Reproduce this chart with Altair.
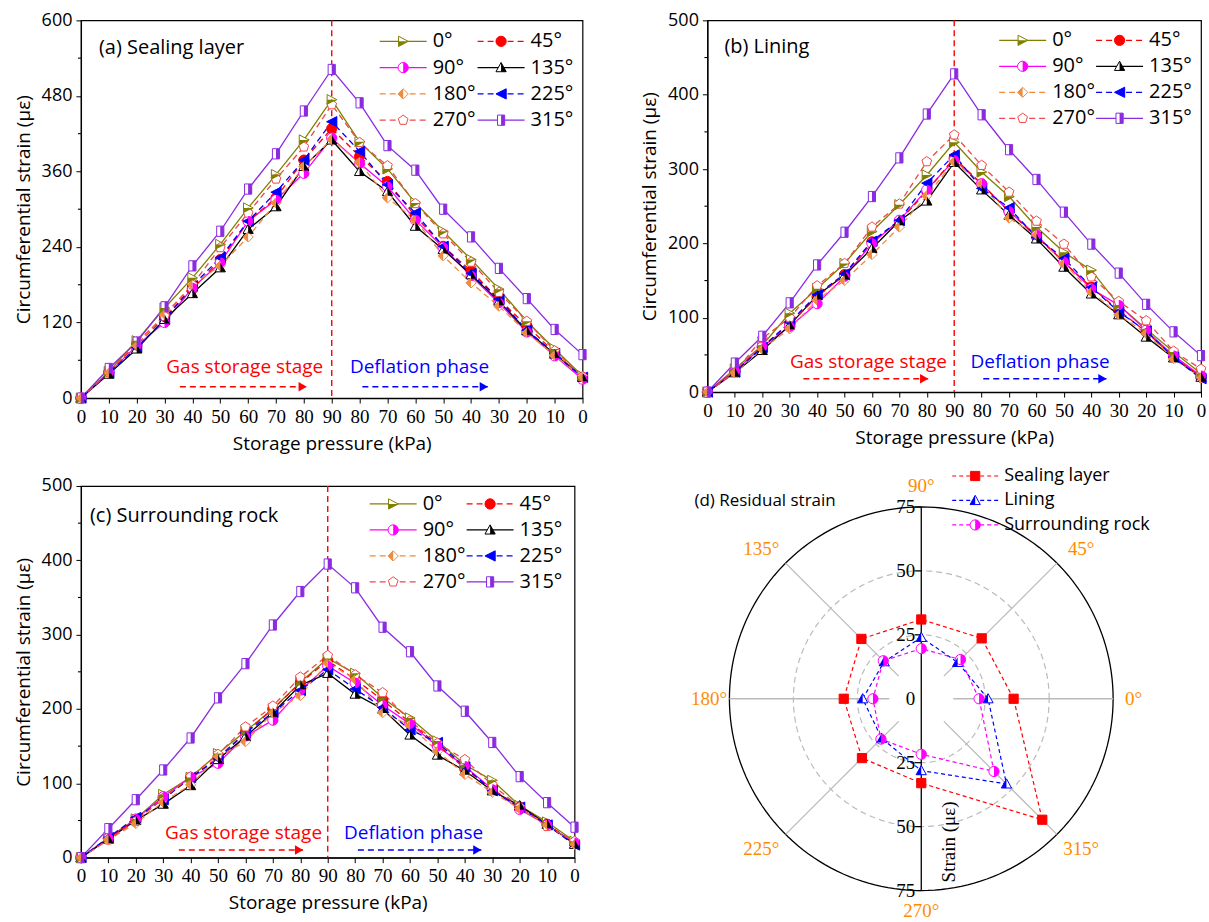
import altair as alt
import pandas as pd

# ---------------- data ----------------
X_LABELS = ["0", "10", "20", "30", "40", "50", "60", "70", "80", "90",
            "80", "70", "60", "50", "40", "30", "20", "10", "0"]
SERIES = ["0°", "45°", "90°", "135°", "180°", "225°", "270°", "315°"]

A_VALUES = {
    "0°":   [0, 42, 91, 143, 191, 244, 302, 355, 410, 474, 407, 364, 310, 265, 220, 173, 122, 78, 35],
    "45°":  [0, 41, 85, 128, 173, 220, 281, 318, 378, 428, 384, 344, 289, 241, 202, 157, 115, 72, 33],
    "90°":  [0, 40, 83, 120, 175, 215, 281, 315, 357, 413, 373, 336, 283, 239, 194, 151, 105, 67, 30],
    "135°": [0, 38, 78, 125, 166, 207, 268, 304, 368, 410, 360, 328, 273, 236, 196, 154, 107, 70, 33],
    "180°": [0, 40, 83, 133, 180, 210, 256, 310, 368, 411, 374, 318, 283, 226, 183, 146, 104, 68, 33],
    "225°": [0, 40, 80, 125, 178, 223, 281, 327, 378, 439, 392, 339, 294, 241, 198, 157, 108, 71, 33],
    "270°": [0, 41, 89, 130, 180, 239, 294, 348, 399, 466, 406, 369, 309, 261, 216, 168, 122, 75, 34],
    "315°": [0, 47, 89, 145, 210, 265, 332, 388, 456, 522, 469, 401, 362, 300, 256, 206, 158, 109, 69],
}
B_VALUES = {
    "0°":   [0, 31, 63, 106, 139, 173, 216, 252, 292, 336, 296, 263, 222, 188, 164, 117, 85, 54, 25],
    "45°":  [0, 28, 61, 92, 128, 158, 202, 230, 270, 315, 280, 243, 209, 175, 141, 110, 81, 47, 20],
    "90°":  [0, 28, 61, 88, 119, 155, 200, 231, 272, 312, 280, 243, 211, 175, 139, 117, 83, 49, 22],
    "135°": [0, 26, 56, 90, 130, 157, 193, 230, 257, 309, 272, 238, 206, 168, 132, 104, 74, 46, 20],
    "180°": [0, 26, 58, 85, 124, 150, 185, 222, 264, 310, 280, 234, 211, 173, 135, 104, 79, 45, 19],
    "225°": [0, 27, 60, 94, 131, 159, 203, 231, 281, 319, 274, 248, 208, 180, 141, 108, 82, 47, 18],
    "270°": [0, 27, 72, 100, 143, 173, 222, 253, 310, 346, 305, 269, 230, 199, 155, 122, 96, 55, 31],
    "315°": [0, 39, 75, 120, 171, 215, 263, 315, 374, 428, 373, 326, 286, 242, 199, 160, 118, 81, 49],
}
C_VALUES = {
    "0°":   [0, 27, 52, 85, 108, 140, 170, 200, 236, 268, 248, 215, 188, 157, 125, 104, 70, 48, 22],
    "45°":  [0, 26, 50, 80, 107, 135, 168, 200, 235, 265, 240, 212, 182, 152, 120, 92, 68, 45, 20],
    "90°":  [0, 26, 52, 82, 108, 127, 163, 185, 225, 258, 235, 205, 180, 150, 123, 92, 65, 44, 20],
    "135°": [0, 25, 50, 72, 97, 132, 163, 195, 232, 248, 220, 200, 165, 138, 117, 90, 70, 45, 18],
    "180°": [0, 24, 46, 75, 98, 136, 156, 195, 218, 262, 240, 195, 178, 143, 112, 88, 66, 44, 18],
    "225°": [0, 27, 54, 78, 108, 133, 168, 195, 225, 253, 227, 202, 172, 155, 122, 90, 68, 44, 17],
    "270°": [0, 24, 49, 80, 109, 139, 176, 204, 243, 272, 246, 222, 184, 154, 132, 98, 68, 42, 22],
    "315°": [0, 39, 78, 118, 161, 215, 261, 313, 358, 395, 363, 310, 277, 231, 197, 155, 109, 74, 41],
}

ANGLES = [0, 45, 90, 135, 180, 225, 270, 315]
RES_NAMES = ["Sealing layer", "Lining", "Surrounding rock"]
RES_SEAL = [36.1, 33.4, 31.0, 33.1, 30.3, 32.8, 33.0, 66.9]
RES_LINING = [26.1, 20.1, 24.0, 20.5, 22.9, 21.9, 28.1, 47.1]
RES_ROCK = [22.6, 21.7, 19.6, 21.0, 18.9, 22.3, 21.7, 40.2]
RADIAL_TICKS = [75, 50, 25, 0, -25, -50, -75]

# annotation anchors (index on x, strain on y)
ANN = {
    "a": {"gas": (5.88, 50), "gas_arrow": (3.55, 8.1, 18), "defl": (12.15, 50), "defl_arrow": (10.1, 14.6, 18)},
    "b": {"gas": (5.87, 40), "gas_arrow": (3.5, 8.05, 18), "defl": (12.13, 40), "defl_arrow": (10.06, 14.55, 18)},
    "c": {"gas": (5.93, 33), "gas_arrow": (3.57, 8.1, 10.3), "defl": (12.13, 33), "defl_arrow": (10.1, 14.6, 10.3)},
}

# ---------------- styles ----------------
SANS = "Open Sans"
SERIF = "Liberation Serif"

CIRCLE = "M-1,0A1,1,0,1,0,1,0A1,1,0,1,0,-1,0Z"
CIRCLE_RH = "M0,-1A1,1,0,0,1,0,1Z"
TRI_R = "M-0.9,-1L1,0L-0.9,1Z"
TRI_R_BH = "M-0.9,0L1,0L-0.9,1Z"
TRI_U = "M0,-1L1,0.8L-1,0.8Z"
TRI_U_RH = "M0,-1L1,0.8L0,0.8Z"
TRI_U_LH = "M0,-1L0,0.8L-1,0.8Z"
DIAM = "M0,-1L1,0L0,1L-1,0Z"
DIAM_LH = "M0,-1L0,1L-1,0Z"
TRI_L = "M1,-1L-1,0L1,1Z"
PENT = "M0,-1L0.951,-0.309L0.588,0.809L-0.588,0.809L-0.951,-0.309Z"
RECT = "M-0.7,-1H0.7V1H-0.7Z"
RECT_RH = "M0,-1H0.7V1H0Z"
SQUARE = "M-0.9,-0.9H0.9V0.9H-0.9Z"

STYLE = {
    "0°":   dict(stroke="#808000", fill="white", shape=TRI_R, half=TRI_R_BH, dashed=False),
    "45°":  dict(stroke="#FF0000", fill="#FF0000", shape=CIRCLE, half="", dashed=True),
    "90°":  dict(stroke="#FF00FF", fill="white", shape=CIRCLE, half=CIRCLE_RH, dashed=False),
    "135°": dict(stroke="#000000", fill="white", shape=TRI_U, half=TRI_U_RH, dashed=False),
    "180°": dict(stroke="#F08A3C", fill="white", shape=DIAM, half=DIAM_LH, dashed=True),
    "225°": dict(stroke="#0000FF", fill="#0000FF", shape=TRI_L, half="", dashed=True),
    "270°": dict(stroke="#F04848", fill="white", shape=PENT, half="", dashed=True),
    "315°": dict(stroke="#8A2BE2", fill="white", shape=RECT, half=RECT_RH, dashed=False),
}
RES_STYLE = {
    "Sealing layer": dict(stroke="#FF0000", fill="#FF0000", shape=SQUARE, half=""),
    "Lining": dict(stroke="#0000FF", fill="white", shape=TRI_U, half=TRI_U_LH),
    "Surrounding rock": dict(stroke="#FF00FF", fill="white", shape=CIRCLE, half=CIRCLE_RH),
}

# legend layout (pixels inside each panel): col x starts, first row y, row step
LEG = {"a": (299, 397, 21, 26.3), "b": (292, 389, 20, 26), "c": (289, 386, 18, 26)}
TITLE_POS = {"a": (18, 28), "b": (17, 27), "c": (9, 30)}
SIZE = {"a": (502, 378), "b": (494, 372), "c": (494, 372)}

LABEL_EXPR = "[" + ",".join("'%s'" % s for s in X_LABELS) + "][datum.value]"
MSIZE = 105


def long_df(values):
    rows = []
    for s in SERIES:
        st = STYLE[s]
        for i, v in enumerate(values[s]):
            rows.append({"series": s, "idx": i, "value": v, "stroke": st["stroke"], "fill": st["fill"],
                         "shape": st["shape"], "hshape": st["half"], "dashed": st["dashed"]})
    return pd.DataFrame(rows)


def legend_df(key):
    c0, c1, y0, dy = LEG[key]
    rows = []
    for i, s in enumerate(SERIES):
        st = STYLE[s]
        lx0 = c0 if i % 2 == 0 else c1
        rows.append({"name": s, "lx0": lx0, "lx1": lx0 + 47, "lm": lx0 + 23.5, "tx": lx0 + 53,
                     "ly": y0 + (i // 2) * dy, "stroke": st["stroke"], "fill": st["fill"],
                     "shape": st["shape"], "hshape": st["half"], "dashed": st["dashed"]})
    return pd.DataFrame(rows)


def line_panel(key, values, ymax, ystep, title):
    w, h = SIZE[key]
    df = long_df(values)
    X = alt.X("idx:Q", scale=alt.Scale(domain=[0, 18], nice=False, zero=False),
              axis=alt.Axis(values=list(range(19)), labelExpr=LABEL_EXPR, title="Storage pressure (kPa)",
                            labelFont=SERIF, labelFontSize=19, labelPadding=4, titlePadding=8,
                            labelOverlap=False, labelFlush=False))
    Y = alt.Y("value:Q", scale=alt.Scale(domain=[0, ymax], nice=False),
              axis=alt.Axis(values=list(range(0, ymax + 1, ystep)), title="Circumferential strain (με)",
                            labelFont=SANS, labelFontSize=18, labelPadding=4, titlePadding=8))

    layers = []
    # minor y ticks
    minor = pd.DataFrame({"value": list(range(ystep // 2, ymax, ystep))})
    layers.append(alt.Chart(minor).mark_rule(color="black", strokeWidth=1.1).encode(
        y=Y, x=alt.value(-3), x2=alt.value(0)))
    layers.append(alt.Chart(pd.DataFrame({"idx": [9]})).mark_rule(
        color="#FF0000", strokeDash=[6, 4], strokeWidth=1.4).encode(x=X))
    layers.append(alt.Chart(df[~df.dashed]).mark_line(strokeWidth=1.3).encode(
        X, Y, stroke=alt.Stroke("stroke:N", scale=None), detail="series:N"))
    layers.append(alt.Chart(df[df.dashed]).mark_line(strokeWidth=1.3, strokeDash=[6, 4]).encode(
        X, Y, stroke=alt.Stroke("stroke:N", scale=None), detail="series:N"))
    layers.append(alt.Chart(df).mark_point(filled=True, size=MSIZE, strokeWidth=1, opacity=1).encode(
        X, Y, shape=alt.Shape("shape:N", scale=None), fill=alt.Fill("fill:N", scale=None),
        stroke=alt.Stroke("stroke:N", scale=None)))
    layers.append(alt.Chart(df[df.hshape != ""]).mark_point(filled=True, size=MSIZE, strokeWidth=0, opacity=1).encode(
        X, Y, shape=alt.Shape("hshape:N", scale=None), fill=alt.Fill("stroke:N", scale=None)))

    # annotations
    an = ANN[key]
    txt = pd.DataFrame({"idx": [an["gas"][0], an["defl"][0]], "value": [an["gas"][1], an["defl"][1]],
                        "t": ["Gas storage stage", "Deflation phase"], "c": ["#FF0000", "#0000FF"]})
    layers.append(alt.Chart(txt).mark_text(font=SANS, fontSize=19, baseline="middle", align="center").encode(
        X, Y, text="t:N", color=alt.Color("c:N", scale=None)))
    arr = pd.DataFrame({"idx": [an["gas_arrow"][0], an["defl_arrow"][0]],
                        "idx2": [an["gas_arrow"][1], an["defl_arrow"][1]],
                        "value": [an["gas_arrow"][2], an["defl_arrow"][2]], "c": ["#FF0000", "#0000FF"]})
    layers.append(alt.Chart(arr).mark_rule(strokeDash=[6, 4], strokeWidth=1.6).encode(
        X, x2="idx2:Q", y=Y, color=alt.Color("c:N", scale=None)))
    heads = pd.DataFrame({"idx": arr["idx2"], "value": arr["value"], "c": arr["c"]})
    layers.append(alt.Chart(heads).mark_point(shape="triangle-right", filled=True, size=90, opacity=1).encode(
        X, Y, fill=alt.Fill("c:N", scale=None), xOffset=alt.value(-4)))

    # title
    tx, ty = TITLE_POS[key]
    layers.append(alt.Chart(pd.DataFrame({"t": [title]})).mark_text(
        font=SANS, fontSize=20, align="left", baseline="middle", color="black").encode(
        x=alt.value(tx), y=alt.value(ty), text="t:N"))

    # legend
    lg = legend_df(key)
    LX = alt.X("lx0:Q", scale=None)
    LY = alt.Y("ly:Q", scale=None)
    layers.append(alt.Chart(lg[~lg.dashed]).mark_rule(strokeWidth=1.3).encode(
        LX, x2="lx1:Q", y=LY, stroke=alt.Stroke("stroke:N", scale=None)))
    layers.append(alt.Chart(lg[lg.dashed]).mark_rule(strokeWidth=1.3, strokeDash=[6, 4]).encode(
        LX, x2="lx1:Q", y=LY, stroke=alt.Stroke("stroke:N", scale=None)))
    layers.append(alt.Chart(lg).mark_point(filled=True, size=MSIZE, strokeWidth=1, opacity=1).encode(
        alt.X("lm:Q", scale=None), LY, shape=alt.Shape("shape:N", scale=None),
        fill=alt.Fill("fill:N", scale=None), stroke=alt.Stroke("stroke:N", scale=None)))
    layers.append(alt.Chart(lg[lg.hshape != ""]).mark_point(filled=True, size=MSIZE, strokeWidth=0, opacity=1).encode(
        alt.X("lm:Q", scale=None), LY, shape=alt.Shape("hshape:N", scale=None),
        fill=alt.Fill("stroke:N", scale=None)))
    layers.append(alt.Chart(lg).mark_text(font=SANS, fontSize=20, align="left", baseline="middle", color="black").encode(
        alt.X("tx:Q", scale=None), LY, text="name:N"))

    return alt.layer(*layers).properties(width=w, height=h)


# ---------------- polar panel ----------------
D_W, D_H = 500, 430
XS = alt.Scale(domain=[-83.6, 111.7], nice=False, zero=False)
YS = alt.Scale(domain=[-84.8, 83.2], nice=False, zero=False)


def PX(f):
    return alt.X(f + ":Q", scale=XS, axis=None)


def PY(f):
    return alt.Y(f + ":Q", scale=YS, axis=None)


def ring(R, color, dash, width):
    kw = dict(color=color, strokeWidth=width)
    if dash:
        kw["strokeDash"] = dash
    return alt.Chart(alt.sequence(0, 362, 2, as_="deg")).transform_calculate(
        px=f"{R}*cos(datum.deg*PI/180)", py=f"{R}*sin(datum.deg*PI/180)"
    ).mark_line(**kw).encode(PX("px"), PY("py"), order="deg:Q")


def polar_panel():
    layers = [ring(25, "#BBBBBB", [6, 4], 1.2), ring(50, "#BBBBBB", [6, 4], 1.2), ring(75, "black", None, 1.3)]
    spokes = pd.DataFrame({"angle": [0, 45, 135, 180, 225, 315]})
    layers.append(alt.Chart(spokes).transform_calculate(
        px="12.5*cos(datum.angle*PI/180)", py="12.5*sin(datum.angle*PI/180)",
        px2="75*cos(datum.angle*PI/180)", py2="75*sin(datum.angle*PI/180)"
    ).mark_rule(color="#BBBBBB", strokeWidth=1.3).encode(PX("px"), PY("py"), x2="px2:Q", y2="py2:Q"))
    ax = pd.DataFrame({"px": [0], "py": [-75], "py2": [75]})
    layers.append(alt.Chart(ax).mark_rule(color="black", strokeWidth=1.3).encode(PX("px"), PY("py"), y2="py2:Q"))
    tk = pd.DataFrame({"py": [v for v in RADIAL_TICKS if v != 0]})
    layers.append(alt.Chart(tk).transform_calculate(px="0", px2="-2.6").mark_rule(
        color="black", strokeWidth=1.2).encode(PX("px"), PY("py"), x2="px2:Q"))
    tl = pd.DataFrame({"py": RADIAL_TICKS, "lab": [str(abs(v)) for v in RADIAL_TICKS]})
    layers.append(alt.Chart(tl).transform_calculate(px="0").mark_text(
        font=SERIF, fontSize=19, align="right", baseline="middle", dx=-6, color="black").encode(
        PX("px"), PY("py"), text="lab:N"))
    al = pd.DataFrame({"angle": ANGLES, "lab": [f"{a}°" for a in ANGLES]})
    layers.append(alt.Chart(al).transform_calculate(
        rx="datum.angle % 90 == 0 ? 83 : 88.4",
        ry="datum.angle % 90 == 0 ? 83 : 83.0",
        px="datum.rx*cos(datum.angle*PI/180)", py="datum.ry*sin(datum.angle*PI/180)"
    ).mark_text(font=SERIF, fontSize=19, align="center", baseline="middle", color="#FF8C00").encode(
        PX("px"), PY("py"), text="lab:N"))

    rows = []
    for name, vals in zip(RES_NAMES, [RES_SEAL, RES_LINING, RES_ROCK]):
        st = RES_STYLE[name]
        for a, r in zip(ANGLES, vals):
            rows.append({"series": name, "angle": a, "r": r, "stroke": st["stroke"], "fill": st["fill"],
                         "shape": st["shape"], "hshape": st["half"]})
    pdf = pd.DataFrame(rows)
    base = alt.Chart(pdf).transform_calculate(
        px="datum.r*cos(datum.angle*PI/180)", py="datum.r*sin(datum.angle*PI/180)")
    layers.append(base.mark_line(interpolate="linear-closed", strokeDash=[4, 3], strokeWidth=1.2).encode(
        PX("px"), PY("py"), order="angle:Q", detail="series:N", stroke=alt.Stroke("stroke:N", scale=None)))
    layers.append(base.mark_point(filled=True, size=MSIZE, strokeWidth=1, opacity=1).encode(
        PX("px"), PY("py"), shape=alt.Shape("shape:N", scale=None), fill=alt.Fill("fill:N", scale=None),
        stroke=alt.Stroke("stroke:N", scale=None)))
    layers.append(alt.Chart(pdf[pdf.hshape != ""]).transform_calculate(
        px="datum.r*cos(datum.angle*PI/180)", py="datum.r*sin(datum.angle*PI/180)"
    ).mark_point(filled=True, size=MSIZE, strokeWidth=0, opacity=1).encode(
        PX("px"), PY("py"), shape=alt.Shape("hshape:N", scale=None), fill=alt.Fill("stroke:N", scale=None)))

    st = pd.DataFrame({"px": [11], "py": [-56], "t": ["Strain (με)"]})
    layers.append(alt.Chart(st).mark_text(font=SERIF, fontSize=19, angle=270, align="center",
                                          baseline="middle", color="black").encode(PX("px"), PY("py"), text="t:N"))
    layers.append(alt.Chart(pd.DataFrame({"t": ["(d) Residual strain"]})).mark_text(
        font=SANS, fontSize=17, align="left", baseline="middle", color="black").encode(
        x=alt.value(-13), y=alt.value(15), text="t:N"))

    lrows = []
    for i, name in enumerate(RES_NAMES):
        s = RES_STYLE[name]
        lrows.append({"name": name, "lx0": 245, "lx1": 291, "lm": 268, "tx": 297, "ly": -10 + i * 24.5,
                      "stroke": s["stroke"], "fill": s["fill"], "shape": s["shape"], "hshape": s["half"]})
    lg = pd.DataFrame(lrows)
    LY = alt.Y("ly:Q", scale=None)
    layers.append(alt.Chart(lg).mark_rule(strokeWidth=1.2, strokeDash=[4, 3]).encode(
        alt.X("lx0:Q", scale=None), x2="lx1:Q", y=LY, stroke=alt.Stroke("stroke:N", scale=None)))
    layers.append(alt.Chart(lg).mark_point(filled=True, size=MSIZE, strokeWidth=1, opacity=1).encode(
        alt.X("lm:Q", scale=None), LY, shape=alt.Shape("shape:N", scale=None),
        fill=alt.Fill("fill:N", scale=None), stroke=alt.Stroke("stroke:N", scale=None)))
    layers.append(alt.Chart(lg[lg.hshape != ""]).mark_point(filled=True, size=MSIZE, strokeWidth=0, opacity=1).encode(
        alt.X("lm:Q", scale=None), LY, shape=alt.Shape("hshape:N", scale=None),
        fill=alt.Fill("stroke:N", scale=None)))
    layers.append(alt.Chart(lg).mark_text(font=SANS, fontSize=18, align="left", baseline="middle", color="black").encode(
        alt.X("tx:Q", scale=None), LY, text="name:N"))

    return alt.layer(*layers).properties(width=D_W, height=D_H,
                                         view=alt.ViewBackground(stroke="transparent"))


pa = line_panel("a", A_VALUES, 600, 120, "(a) Sealing layer")
pb = line_panel("b", B_VALUES, 500, 100, "(b) Lining")
pc = line_panel("c", C_VALUES, 500, 100, "(c) Surrounding rock")
pdd = polar_panel()

chart = alt.concat(pa, pb, pc, pdd, columns=2, spacing={"row": 88, "column": 125}, bounds="flush").resolve_scale(
    x="independent", y="independent"
).properties(
    padding={"left": 13, "top": 10, "right": 0, "bottom": 0}, background="white"
).configure_view(stroke="black", strokeWidth=1.2).configure_axis(
    domainColor="black", tickColor="black", labelColor="black", titleColor="black",
    titleFont=SANS, titleFontSize=19, titleFontWeight="normal", tickSize=5, grid=False, domainWidth=1.2
)

chart.save("out.html", embed_options={"renderer": "svg", "actions": False})
